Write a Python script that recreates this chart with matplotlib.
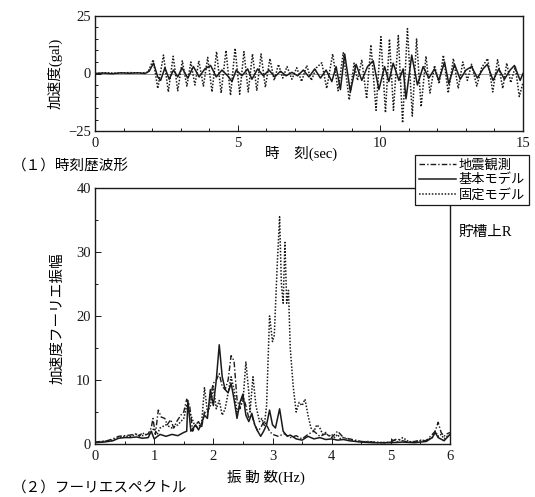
import matplotlib
matplotlib.use("Agg")
import matplotlib.pyplot as plt
from matplotlib.ticker import MultipleLocator
from matplotlib.lines import Line2D

# ---------------- data ----------------
# (1) time history, extrema
t_fixed = [0, 0.4, 0.8, 1.2, 1.6, 1.85, 2.04, 2.2, 2.4, 2.57, 2.74, 2.9, 3.06, 3.22, 3.36, 3.5,
           3.64, 3.8, 3.95, 4.1, 4.26, 4.42, 4.59, 4.75, 4.91, 5.07, 5.22, 5.37, 5.52, 5.67,
           5.82, 5.97, 6.13, 6.28, 6.43, 6.58, 6.73, 6.9, 7.07, 7.24, 7.42, 7.58, 7.76, 7.95,
           8.12, 8.33, 8.52, 8.7, 8.91, 9.08, 9.2, 9.35, 9.52, 9.67, 9.85, 10.02, 10.18, 10.32,
           10.46, 10.63, 10.78, 10.95, 11.12, 11.27, 11.43, 11.6, 11.74, 11.9, 12.06, 12.21,
           12.38, 12.56, 12.73, 12.89, 13.05, 13.2, 13.38, 13.55, 13.76, 13.94, 14.11, 14.29,
           14.43, 14.57, 14.73, 14.87, 15.0]
a_fixed = [0, 0.3, 0.1, 0.4, 0.2, 0.5, 6.0, -6.5, 8.0, -8.0, 7.5, -7.5, 5.5, -5.5, 5.0, -5.0,
           5.5, -5.5, 7.0, -8.0, 9.5, -8.5, 10.0, -9.5, 11.0, -9.0, 9.5, -8.0, 8.5, -7.5,
           8.5, -6.0, 6.5, -3.0, 4.0, -2.0, 3.0, -2.5, 2.5, -3.5, 3.5, -3.0, 2.5, 4.7,
           -6.5, 8.5, -7.5, 9.0, -11.5, 4.5, -3.0, 6.0, -11.0, 12.5, -16.0, 16.0, -17.0, 15.0,
           -16.0, 16.5, -21.5, 19.5, -18.5, 15.0, -14.5, 7.5, -8.5, 3.5, -4.5, 8.0,
           -8.5, 6.5, -6.5, 5.0, -3.0, 4.0, -5.5, 2.5, 6.5, -8.0, 6.0, -6.5,
           4.5, -4.0, 3.0, -10.0, -4.0]

t_basic = [0, 0.3, 0.6, 0.9, 1.2, 1.5, 1.75, 1.9, 2.05, 2.2, 2.3, 2.45, 2.6, 2.75, 2.9, 3.05,
           3.25, 3.45, 3.65, 3.85, 4.05, 4.25, 4.45, 4.65, 4.8, 4.95, 5.15, 5.35, 5.5, 5.7,
           5.9, 6.1, 6.3, 6.5, 6.7, 6.9, 7.1, 7.3, 7.5, 7.7, 7.9, 8.1, 8.3, 8.45, 8.6, 8.75,
           8.95, 9.15, 9.35, 9.55, 9.75, 9.95, 10.15, 10.3, 10.45, 10.65, 10.8, 10.9, 11.1,
           11.3, 11.5, 11.7, 11.9, 12.05, 12.25, 12.4, 12.6, 12.8, 13.0, 13.2, 13.4, 13.6,
           13.75, 13.95, 14.15, 14.35, 14.55, 14.7, 14.9, 15.0]
a_basic = [0, 0.2, -0.1, 0.3, 0.1, 0.3, 0.0, 1.0, 4.5, -1.5, -3.0, 2.5, -2.5, 1.5, -1.5, 2.5,
           -2.0, 3.0, -1.5, 2.0, 3.5, -1.5, 1.5, -1.0, -3.5, 1.5, -1.0, 2.0, -2.5, 2.0,
           -1.0, 1.5, -1.5, 1.0, -1.0, 0.5, -1.0, 1.5, -1.5, 2.0, -2.0, 1.5, -3.5, 3.0, -7.0, 8.5,
           -8.0, 4.0, -3.0, 3.0, 5.5, -7.0, 3.0, -3.5, 4.5, -3.0, 2.0, -11.0, 8.0,
           -5.0, 3.0, -2.0, 2.0, -3.0, 5.0, -4.5, 4.0, -2.5, 1.5, 3.0, -2.0, 2.0,
           4.0, -3.0, 2.0, -2.5, 1.5, 3.5, -3.0, 0.0]

# (2) Fourier spectra
f_obs = [0, 0.1, 0.2, 0.3, 0.4, 0.5, 0.6, 0.7, 0.75, 0.8, 0.85, 0.9, 0.95, 0.98, 1.02, 1.07,
         1.12, 1.18, 1.22, 1.28, 1.33, 1.38, 1.45, 1.5, 1.55, 1.6, 1.65, 1.7, 1.75, 1.8, 1.85,
         1.9, 1.95, 2.0, 2.05, 2.1, 2.15, 2.2, 2.25, 2.3, 2.35, 2.4, 2.45, 2.5, 2.55, 2.6,
         2.65, 2.7, 2.75, 2.8, 2.85, 2.9, 2.95, 3.0, 3.1, 3.2, 3.3, 3.4, 3.5, 3.6, 3.7, 3.8,
         3.9, 4.0, 4.1, 4.2, 4.3, 4.4, 4.5, 4.7, 4.9, 5.0, 5.1, 5.2, 5.3, 5.4, 5.5, 5.6, 5.7,
         5.75, 5.8, 5.85, 5.9, 5.95, 6.0]
s_obs = [0.3, 0.4, 0.5, 0.8, 1.2, 1.3, 1.4, 1.6, 1.2, 1.8, 1.4, 1.6, 2.5, 4.0, 1.5, 5.3,
         4.2, 4.0, 3.0, 3.8, 2.5, 3.5, 4.5, 5.0, 7.0, 6.0, 2.0, 3.0, 3.5, 2.5, 5.0,
         4.5, 7.5, 9.5, 10.0, 11.0, 9.0, 8.5, 10.0, 13.8, 13.0, 7.0, 5.5, 7.5, 6.0, 4.0,
         4.5, 3.0, 2.0, 2.5, 3.5, 3.0, 2.0, 1.5, 1.2, 1.6, 1.0, 1.3, 0.8, 1.5, 2.0, 1.2,
         1.6, 1.0, 2.0, 1.0, 0.8, 0.6, 0.4, 0.3, 0.2, 0.3, 0.8, 0.5, 0.3, 0.4, 0.6, 0.5, 1.5,
         2.0, 3.4, 1.8, 1.2, 1.6, 1.8]

f_basic = [0, 0.15, 0.3, 0.4, 0.5, 0.6, 0.7, 0.8, 0.9, 0.95, 1.0, 1.1, 1.2, 1.3, 1.4, 1.5,
           1.55, 1.57, 1.62, 1.7, 1.75, 1.8, 1.85, 1.9, 1.95, 2.0, 2.05, 2.1, 2.15, 2.2, 2.25,
           2.3, 2.35, 2.4, 2.45, 2.5, 2.55, 2.6, 2.65, 2.7, 2.75, 2.8, 2.85, 2.9, 2.95, 3.0,
           3.05, 3.12, 3.18, 3.25, 3.3, 3.4, 3.5, 3.6, 3.7, 3.8, 3.9, 4.0, 4.1, 4.2, 4.3, 4.5,
           4.7, 5.0, 5.2, 5.4, 5.6, 5.7, 5.75, 5.8, 5.9, 6.0]
s_basic = [0.2, 0.3, 0.5, 0.9, 1.0, 1.0, 1.1, 0.9, 1.0, 2.0, 0.8, 1.5, 1.2, 1.5, 1.3, 1.8,
           2.0, 6.8, 2.0, 3.0, 2.2, 3.2, 4.5, 4.0, 8.5, 6.0, 10.0, 15.5, 10.5, 8.5, 8.0,
           9.5, 7.0, 4.0, 6.5, 7.8, 4.5, 3.5, 4.8, 3.0, 2.0, 1.2, 2.0, 3.0, 5.3, 3.0,
           2.5, 5.5, 2.0, 1.2, 1.4, 0.8, 0.6, 1.2, 0.8, 1.0, 0.7, 0.8, 0.6, 0.7, 0.5, 0.3,
           0.2, 0.2, 0.3, 0.2, 0.4, 1.0, 1.8, 1.0, 0.5, 1.5]

f_fixed = [0, 0.15, 0.3, 0.4, 0.5, 0.6, 0.7, 0.8, 0.9, 0.95, 1.0, 1.05, 1.1, 1.2, 1.3, 1.4,
           1.5, 1.55, 1.6, 1.7, 1.75, 1.8, 1.85, 1.9, 1.95, 2.0, 2.05, 2.1, 2.15, 2.2, 2.25,
           2.3, 2.35, 2.4, 2.45, 2.5, 2.55, 2.6, 2.62, 2.67, 2.72, 2.78, 2.82, 2.86, 2.9,
           2.95, 3.0, 3.03, 3.08, 3.12, 3.15, 3.18, 3.21, 3.24, 3.27, 3.3, 3.35, 3.4, 3.45,
           3.5, 3.55, 3.6, 3.65, 3.7, 3.75, 3.8, 3.85, 3.9, 3.95, 4.0, 4.05, 4.1, 4.15, 4.2,
           4.3, 4.4, 4.5, 4.6, 4.8, 5.0, 5.05, 5.1, 5.2, 5.3, 5.4, 5.5, 5.6, 5.7, 5.75, 5.8,
           5.85, 5.9, 5.95, 6.0]
s_fixed = [0.3, 0.4, 0.6, 1.0, 1.2, 1.2, 1.5, 1.3, 1.6, 1.8, 2.5, 1.5, 2.5, 3.0, 2.5, 3.0,
           4.0, 6.0, 5.0, 2.5, 2.8, 3.0, 8.8, 5.0, 6.0, 9.0, 5.5, 6.8, 4.5, 5.5, 8.0,
           10.5, 8.5, 5.0, 6.0, 6.5, 12.8, 8.0, 5.0, 10.5, 6.0, 3.5, 4.0, 2.8, 6.0,
           20.0, 16.0, 17.0, 28.0, 35.5, 25.0, 22.0, 31.5, 22.0, 24.0, 15.0, 9.0, 5.0, 6.5,
           6.0, 7.0, 4.5, 2.5, 2.0, 3.0, 2.5, 1.5, 1.8, 1.2, 1.5, 1.0, 1.5, 0.8, 1.0,
           0.6, 0.5, 0.3, 0.4, 0.2, 0.3, 0.8, 0.3, 1.0, 0.4, 0.3, 0.5, 0.6, 1.0, 2.0, 1.2,
           1.5, 0.8, 1.2, 1.5]

labels = ["地震観測", "基本モデル", "固定モデル"]

# ---------------- figure ----------------
W, H = 535, 497
fig = plt.figure(figsize=(W / 100, H / 100), dpi=100)
FAM = ["Liberation Serif", "Noto Sans CJK JP"]
plt.rcParams["font.family"] = FAM
plt.rcParams["axes.unicode_minus"] = True

def fx(px):
    return px / W

def fy(py):
    return 1 - py / H

ink = "#1a1a1a"
DOT = (0, (1.0, 1.1))
DASHDOT = (0, (4.0, 1.5, 1.0, 1.5))

# top axes
ax1 = fig.add_axes([fx(95), fy(131), fx(523) - fx(95), fy(16) - fy(131)])
ax1.axhline(0, color="#888888", lw=0.6, zorder=1)
ax1.plot(t_fixed, a_fixed, color=ink, lw=1.1, ls=DOT, zorder=2)
ax1.plot(t_basic, a_basic, color=ink, lw=1.1, ls="-", zorder=3)
ax1.set_xlim(0, 15)
ax1.set_ylim(-25, 25)
ax1.set_xticks([0, 5, 10, 15])
ax1.set_yticks([-25, 0, 25])
ax1.xaxis.set_minor_locator(MultipleLocator(1))
ax1.yaxis.set_minor_locator(MultipleLocator(5))

# bottom axes
ax2 = fig.add_axes([fx(95), fy(444), fx(450) - fx(95), fy(188) - fy(444)])
ax2.plot(f_obs, s_obs, color=ink, lw=1.0, ls=DASHDOT, zorder=3)
ax2.plot(f_basic, s_basic, color=ink, lw=1.1, ls="-", zorder=4)
ax2.plot(f_fixed, s_fixed, color=ink, lw=1.1, ls=DOT, zorder=2)
ax2.set_xlim(0, 6)
ax2.set_ylim(0, 40)
ax2.set_xticks(range(0, 7))
ax2.set_yticks([0, 10, 20, 30, 40])
ax2.xaxis.set_minor_locator(MultipleLocator(0.5))
ax2.yaxis.set_minor_locator(MultipleLocator(5))

for ax in (ax1, ax2):
    for s in ax.spines.values():
        s.set_linewidth(1.0)
        s.set_color(ink)
    ax.tick_params(which="both", direction="in", colors=ink, labelsize=10.5, width=0.7)
    ax.tick_params(which="major", length=4)
    ax.tick_params(which="minor", length=2)
    ax.tick_params(axis="x", pad=4)
    ax.tick_params(axis="y", pad=3)

# texts
fig.text(fx(55), fy(73), "加速度(gal)", rotation=90, ha="center", va="center", fontsize=10.5)
fig.text(fx(301), fy(153), "時　刻(sec)", ha="center", va="center", fontsize=10.5)
fig.text(fx(12), fy(167), "（１）時刻歴波形", ha="left", va="center", fontsize=10.5)
fig.text(fx(58), fy(318), "加速度フーリエ振幅", rotation=90, ha="center", va="center", fontsize=10.5)
fig.text(fx(266), fy(477), "振 動 数(Hz)", ha="center", va="center", fontsize=10.5)
fig.text(fx(12), fy(488), "（２）フーリエスペクトル", ha="left", va="center", fontsize=10.5)
fig.text(fx(459), fy(232), "貯槽上R", ha="left", va="center", fontsize=10.5)

handles = [Line2D([], [], color=ink, lw=1.0, ls=DASHDOT),
           Line2D([], [], color=ink, lw=1.1, ls="-"),
           Line2D([], [], color=ink, lw=1.1, ls=DOT)]
leg = fig.legend(handles, labels, loc="upper left", bbox_to_anchor=(fx(415), fy(155)),
                 fontsize=9.5, frameon=True, fancybox=False, shadow=False,
                 handlelength=2.8, handletextpad=0.2, borderpad=0.3, labelspacing=0.15,
                 borderaxespad=0.0)
leg.get_frame().set_edgecolor(ink)
leg.get_frame().set_linewidth(0.9)
leg.get_frame().set_facecolor("white")
leg.get_frame().set_alpha(1.0)
leg.set_zorder(10)

fig.savefig("out.png", dpi=100)
